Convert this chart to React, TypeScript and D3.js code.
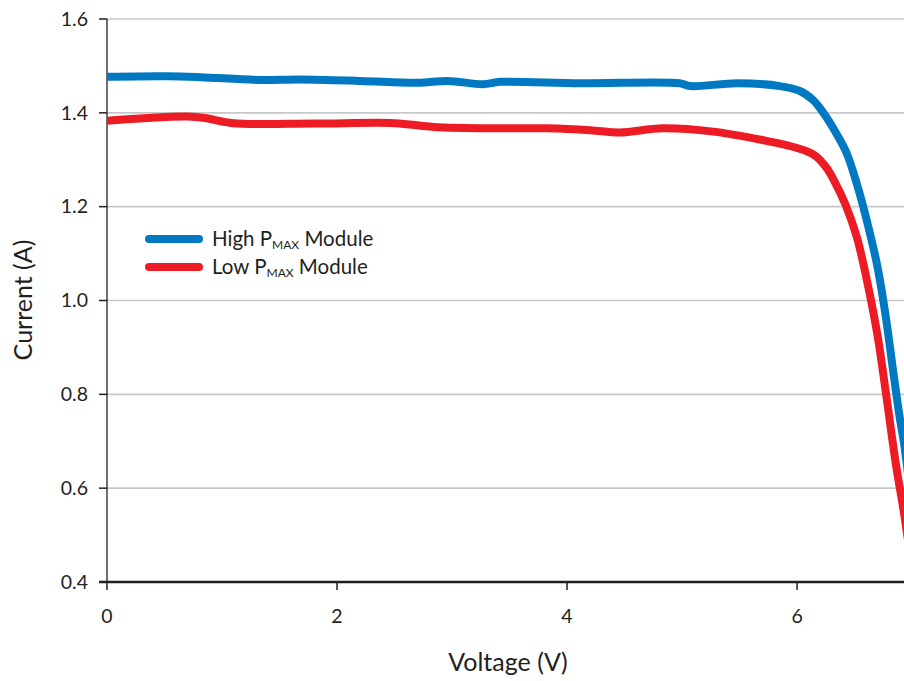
import React from "react";
import * as d3 from "d3";

const yTicks = [0.4, 0.6, 0.8, 1.0, 1.2, 1.4, 1.6];
const xTicks = [0, 2, 4, 6];

const highV = [0, 0.52, 0.81, 1.33, 1.68, 2.2, 2.7, 2.96, 3.27, 3.42, 4.11, 4.98, 5.07, 5.48, 5.85, 6.03, 6.14, 6.22, 6.32, 6.43, 6.53, 6.62, 6.7, 6.77, 6.83, 6.89, 6.93, 6.97];
const highI = [1.477, 1.478, 1.476, 1.47, 1.471, 1.468, 1.464, 1.468, 1.461, 1.466, 1.463, 1.463, 1.457, 1.463, 1.457, 1.446, 1.427, 1.403, 1.365, 1.315, 1.24, 1.157, 1.071, 0.968, 0.86, 0.755, 0.696, 0.62];

const lowV = [0, 0.35, 0.7, 0.85, 1.1, 1.8, 2.5, 2.84, 3.42, 3.83, 4.2, 4.46, 4.83, 5.27, 5.7, 6.0, 6.15, 6.25, 6.33, 6.42, 6.52, 6.61, 6.7, 6.78, 6.86, 6.93, 6.97];
const lowI = [1.383, 1.389, 1.392, 1.389, 1.378, 1.377, 1.378, 1.37, 1.367, 1.367, 1.363, 1.358, 1.367, 1.36, 1.342, 1.325, 1.31, 1.285, 1.252, 1.205, 1.135, 1.04, 0.925, 0.79, 0.65, 0.547, 0.48];

const W = 904, H = 681;
const L = 107, T = 19, R = 904, B = 582;
const FONT = "Lato, 'Open Sans', sans-serif";
const INK = "#231f20";

export default function App() {
  const x = d3.scaleLinear().domain([0, 6.93]).range([L, R]);
  const y = d3.scaleLinear().domain([0.4, 1.6]).range([B, T]);
  const line = d3
    .line<[number, number]>()
    .x((d) => x(d[0]))
    .y((d) => y(d[1]))
    .curve(d3.curveCatmullRom.alpha(0.5));
  const high = highV.map((v, i) => [v, highI[i]] as [number, number]);
  const low = lowV.map((v, i) => [v, lowI[i]] as [number, number]);

  return (
    <svg width={W} height={H} style={{ position: "absolute", left: 0, top: 0, background: "#fff" }} fontFamily={FONT}>
      <defs>
        <clipPath id="plot">
          <rect x={L} y={T - 10} width={R - L} height={B - T + 10} />
        </clipPath>
      </defs>
      {yTicks.filter((t) => t > 0.4).map((t) => (
        <line key={"g" + t} x1={L} x2={R} y1={y(t)} y2={y(t)} stroke="#c8c8c8" strokeWidth={1.6} />
      ))}
      {yTicks.map((t) => (
        <g key={"y" + t}>
          <line x1={L - 8} x2={L} y1={y(t)} y2={y(t)} stroke={INK} strokeWidth={1.5} />
          <text x={L - 19} y={y(t)} dy="0.35em" textAnchor="end" fontSize={19.5} fill={INK}>
            {t.toFixed(1)}
          </text>
        </g>
      ))}
      <line x1={L} x2={L} y1={T} y2={B} stroke={INK} strokeWidth={1.3} />
      <g clipPath="url(#plot)">
        <path d={line(low) || ""} fill="none" stroke="#ed1c24" strokeWidth={8} strokeLinejoin="round" strokeLinecap="round" />
        <path d={line(high) || ""} fill="none" stroke="#0079c2" strokeWidth={8} strokeLinejoin="round" strokeLinecap="round" />
      </g>
      <line x1={L - 8} x2={R} y1={B} y2={B} stroke={INK} strokeWidth={2.5} />
      {xTicks.map((t) => (
        <g key={"x" + t}>
          <line x1={x(t)} x2={x(t)} y1={B} y2={B + 8} stroke={INK} strokeWidth={1.5} />
          <text x={x(t)} y={623} textAnchor="middle" fontSize={19.5} fill={INK}>
            {t}
          </text>
        </g>
      ))}
      <text x={508} y={671} textAnchor="middle" fontSize={25} fill={INK}>Voltage (V)</text>
      <text transform="translate(32,300) rotate(-90)" textAnchor="middle" fontSize={25} fill={INK}>Current (A)</text>
      <g>
        <line x1={149} x2={199} y1={239} y2={239} stroke="#0079c2" strokeWidth={8} strokeLinecap="round" />
        <text x={212} y={246} fontSize={20.5} fill={INK}>
          High P<tspan fontSize={12} dy={3}>MAX</tspan><tspan dy={-3}> Module</tspan>
        </text>
        <line x1={149} x2={199} y1={267} y2={267} stroke="#ed1c24" strokeWidth={8} strokeLinecap="round" />
        <text x={212} y={274} fontSize={20.5} fill={INK}>
          Low P<tspan fontSize={12} dy={3}>MAX</tspan><tspan dy={-3}> Module</tspan>
        </text>
      </g>
    </svg>
  );
}
